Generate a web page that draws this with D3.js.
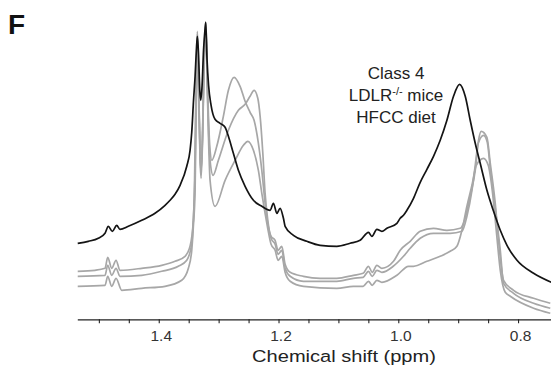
<!DOCTYPE html>
<html>
<head>
<meta charset="utf-8">
<script src="https://cdn.jsdelivr.net/npm/d3@7/dist/d3.min.js"></script>
<style>
  body { margin: 0; background: #fff; }
  svg { display: block; }
  text { font-family: "Liberation Sans", Arial, sans-serif; }
</style>
</head>
<body>
<svg id="chart" width="551" height="373"></svg>
<script>
// spectra: chemical shift (ppm) and intensity (arb. units)
const blackPpm = [1.5353,1.5176,1.5009,1.4897,1.4842,1.4775,1.4702,1.4647,1.4508,1.4284,1.4062,1.3895,1.3811,1.3728,1.3644,1.3532,1.3477,1.3449,1.3419,1.3393,1.3372,1.3355,1.3335,1.3315,1.3298,1.3276,1.3252,1.3226,1.3215,1.3193,1.3168,1.3126,1.3060,1.2976,1.2892,1.2837,1.2754,1.2670,1.2558,1.2419,1.2279,1.2140,1.2085,1.2028,1.1973,1.1918,1.1890,1.1751,1.1527,1.1305,1.1026,1.0804,1.0637,1.0498,1.0441,1.0358,1.0274,1.0190,1.0023,0.9968,0.9913,0.9856,0.9746,0.9634,0.9522,0.9412,0.9300,0.9188,0.9078,0.8977,0.8882,0.8799,0.8715,0.8632,0.8520,0.8409,0.8297,0.8185,0.8018,0.7741,0.7445];
const blackInt = [76,78,81,86,93,88,94,90,93,99,106,114,119,125,134,153,169,187,219,243,269,283,264,229,219,234,269,291,297,259,234,214,200,196,192,183,166,149,133,119,113,109,116,106,111,101,93,84,78,74,73,76,79,87,83,90,88,91,96,101,104,109,121,137,150,163,179,199,223,235,223,199,176,156,129,108,89,74,59,46,37];

const grayAPpm = [1.5353,1.5064,1.4897,1.4852,1.4785,1.4713,1.4647,1.4284,1.3950,1.3728,1.3561,1.3477,1.3422,1.3402,1.3382,1.3355,1.3335,1.3310,1.3293,1.3268,1.3243,1.3215,1.3193,1.3168,1.3143,1.3114,1.3031,1.2921,1.2837,1.2742,1.2642,1.2558,1.2475,1.2408,1.2336,1.2279,1.2224,1.2174,1.2124,1.2057,1.2007,1.1945,1.1890,1.1806,1.1584,1.1305,1.1026,1.0749,1.0587,1.0498,1.0436,1.0358,1.0274,1.0080,0.9968,0.9801,0.9634,0.9412,0.9188,0.8966,0.8911,0.8799,0.8715,0.8660,0.8615,0.8520,0.8464,0.8381,0.8326,0.8242,0.8075,0.7741,0.7462];
const grayAInt = [48,49,51,62,51,59,49,51,54,58,63,73,99,139,219,288,239,169,149,189,259,297,249,199,169,159,173,203,229,242,233,218,207,199,176,149,116,94,83,79,69,73,55,47,43,41,41,44,46,53,47,54,51,58,69,78,88,91,89,91,96,123,149,179,188,182,156,116,79,39,29,21,16];

const grayBPpm = [1.5353,1.4897,1.4852,1.4785,1.4713,1.4647,1.4284,1.3950,1.3673,1.3532,1.3449,1.3419,1.3397,1.3377,1.3355,1.3335,1.3310,1.3293,1.3268,1.3243,1.3215,1.3193,1.3168,1.3143,1.3093,1.3004,1.2837,1.2670,1.2558,1.2475,1.2408,1.2346,1.2307,1.2262,1.2224,1.2179,1.2124,1.2057,1.2007,1.1945,1.1890,1.1806,1.1584,1.1026,1.0749,1.0587,1.0498,1.0436,1.0358,1.0274,1.0085,0.9913,0.9801,0.9634,0.9412,0.9133,0.8937,0.8854,0.8770,0.8715,0.8665,0.8576,0.8514,0.8464,0.8381,0.8297,0.8242,0.8075,0.7741,0.7462];
const grayBInt = [43,44,54,44,51,43,44,48,53,59,76,104,139,219,286,234,164,147,184,257,296,244,189,159,144,159,189,209,215,223,229,221,203,166,126,99,81,75,65,69,51,43,38,38,41,42,48,43,49,47,53,63,71,81,86,86,88,103,129,154,176,184,177,151,111,69,36,26,16,11];

const grayCPpm = [1.5353,1.4897,1.4852,1.4785,1.4713,1.4618,1.4284,1.3895,1.3616,1.3505,1.3449,1.3422,1.3393,1.3372,1.3355,1.3335,1.3310,1.3293,1.3268,1.3243,1.3215,1.3193,1.3168,1.3143,1.3060,1.2892,1.2725,1.2586,1.2513,1.2419,1.2336,1.2279,1.2224,1.2174,1.2124,1.2057,1.2007,1.1945,1.1890,1.1806,1.1584,1.1026,1.0749,1.0587,1.0498,1.0436,1.0358,1.0274,1.0023,0.9830,0.9746,0.9522,0.9300,0.9133,0.9021,0.8937,0.8854,0.8770,0.8698,0.8576,0.8498,0.8431,0.8364,0.8297,0.8214,0.8130,0.7741,0.7462];
const grayCInt = [33,34,43,33,41,29,31,33,39,51,69,93,129,219,284,231,159,141,179,254,295,239,179,139,113,139,159,174,178,169,149,126,106,89,75,69,59,63,47,38,33,31,33,33,38,34,39,37,44,53,53,58,63,68,73,89,113,134,154,161,154,129,89,49,27,23,11,6];

const tickValues = [1.5,1.45,1.4,1.35,1.3,1.25,1.2,1.15,1.1,1.05,1.0,0.95,0.9,0.85,0.8];
const tickLabels = [1.4,1.2,1.0,0.8];
const noteLines = ["Class 4", "LDLR", "HFCC diet"];

const svg = d3.select("#chart");

const x = d3.scaleLinear().domain([1.536, 0.745]).range([77.3, 551]);
const y = d3.scaleLinear().domain([0, 300]).range([319.3, 19.3]);

const line = d3.line()
  .x(d => x(d[0]))
  .y(d => y(d[1]))
  .curve(d3.curveMonotoneX);

const zip = (a, b) => a.map((v, i) => [v, b[i]]);

// gray spectra first, black on top
[[grayAPpm, grayAInt], [grayBPpm, grayBInt], [grayCPpm, grayCInt]].forEach(s => {
  svg.append("path")
    .attr("d", line(zip(s[0], s[1])))
    .attr("fill", "none")
    .attr("stroke", "#a7a7a7")
    .attr("stroke-width", 1.7)
    .attr("stroke-linejoin", "round");
});

svg.append("path")
  .attr("d", line(zip(blackPpm, blackInt)))
  .attr("fill", "none")
  .attr("stroke", "#141414")
  .attr("stroke-width", 1.7)
  .attr("stroke-linejoin", "round");

// x axis
const xAxis = d3.axisBottom(x)
  .tickValues(tickValues)
  .tickSize(4)
  .tickSizeOuter(0)
  .tickPadding(7)
  .tickFormat(d => tickLabels.some(t => Math.abs(t - d) < 1e-9) ? d.toFixed(1) : "");

const gx = svg.append("g")
  .attr("transform", "translate(0,319.3)")
  .call(xAxis);
gx.select(".domain").attr("stroke", "#222").attr("stroke-width", 1.3);
gx.selectAll(".tick line").attr("stroke", "#222").attr("stroke-width", 1.1);
gx.selectAll(".tick text")
  .attr("fill", "#333")
  .attr("dx", 2)
  .style("font-size", "15.5px")
  .style("font-family", "'Liberation Sans', Arial, sans-serif");

// axis title, a bit wider than plain Arial like the source figure
svg.append("text")
  .attr("transform", "translate(344,361.5) scale(1.18,1)")
  .attr("text-anchor", "middle")
  .attr("fill", "#222")
  .style("font-size", "17px")
  .text("Chemical shift (ppm)");

// panel letter
svg.append("text")
  .attr("x", 8)
  .attr("y", 34)
  .attr("fill", "#111")
  .style("font-size", "28px")
  .style("font-weight", "bold")
  .text("F");

// annotation
const note = svg.append("text")
  .attr("text-anchor", "middle")
  .attr("fill", "#222")
  .style("font-size", "17px");
note.append("tspan").attr("x", 396).attr("y", 79).text(noteLines[0]);
const l2 = note.append("tspan").attr("x", 396).attr("y", 101);
l2.append("tspan").text(noteLines[1]);
l2.append("tspan").attr("dy", -6).style("font-size", "11px").text("-/-");
l2.append("tspan").attr("dy", 6).text(" mice");
note.append("tspan").attr("x", 396).attr("y", 123).text(noteLines[2]);
</script>
</body>
</html>
